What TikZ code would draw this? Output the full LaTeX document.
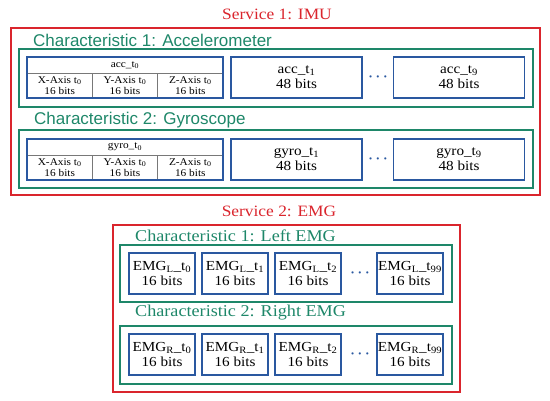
\documentclass[tikz,border=0pt]{standalone}
\usepackage{fontspec}
\setmainfont[FakeStretch=1.1]{Liberation Serif}
\setsansfont{Liberation Sans}
\definecolor{sred}{RGB}{218,37,45}
\definecolor{cgreen}{RGB}{30,135,105}
\definecolor{dblue}{RGB}{42,88,160}
\definecolor{divgray}{RGB}{120,120,120}
\begin{document}
\begin{tikzpicture}[x=1pt,y=-1pt,
  servicebox/.style={draw=sred,line width=1.8pt,inner sep=0pt},
  charbox/.style={draw=cgreen,line width=1.8pt,inner sep=0pt,minimum height=58pt},
  databox/.style={draw=dblue,line width=1.8pt,inner sep=0pt,minimum height=41pt,align=center,font=\fontsize{13.8}{15}\selectfont},
  emgbox/.style={databox,minimum width=66pt},
  bigbox/.style={databox,minimum width=131pt},
  divider/.style={draw=divgray,line width=0.8pt},
  smalltext/.style={inner sep=0pt,align=center,font=\fontsize{10.3}{11}\selectfont},
  servicetitle/.style={inner sep=0pt,text=sred,font=\fontsize{15.8}{18}\selectfont},
  chartitle/.style={inner sep=0pt,anchor=west,text=cgreen,font=\fontsize{16.5}{19}\selectfont},
  chartitlesans/.style={inner sep=0pt,anchor=west,text=cgreen,font=\sffamily\fontsize{17}{19}\selectfont},
  dotsnode/.style={inner sep=0pt,text=dblue,font=\fontsize{15}{15}\selectfont\boldmath}
]
\useasboundingbox (0,0) rectangle (550,400);

% ---------------- Service 1 ----------------
\node[servicetitle] (s1t) at (277,14) {Service 1: IMU};
\node[servicebox,minimum width=529pt,minimum height=167pt] (s1) at (275.5,111.5) {};

\node[chartitlesans] (c1t) at (33,40) {Characteristic 1: Accelerometer};
\node[charbox,minimum width=514pt] (c1) at (276,78) {};

% acc_t0 compound box
\draw[divider] (27,73) -- (223,73);
\draw[divider] (92.3,73) -- (92.3,98);
\draw[divider] (157.7,73) -- (157.7,98);
\node[databox,minimum width=196pt] (acc0) at (125,77.5) {};
\node[smalltext] (acc0h) at (125,65) {acc\_t\textsubscript{0}};
\node[smalltext] (acc0x) at (59.7,85.5) {X-Axis t\textsubscript{0}\\16 bits};
\node[smalltext] (acc0y) at (125,85.5) {Y-Axis t\textsubscript{0}\\16 bits};
\node[smalltext] (acc0z) at (190.3,85.5) {Z-Axis t\textsubscript{0}\\16 bits};

\node[bigbox] (acc1) at (296.5,77.5) {acc\_t\textsubscript{1}\\48 bits};
\node[dotsnode] (accd) at (378,77) {$\cdots$};
\node[bigbox] (acc9) at (459,77.5) {acc\_t\textsubscript{9}\\48 bits};

\node[chartitlesans] (c2t) at (34,120) {Characteristic 2: Gyroscope};
\node[charbox,minimum width=514pt] (c2) at (276,159) {};

\draw[divider] (27,155) -- (223,155);
\draw[divider] (92.3,155) -- (92.3,180);
\draw[divider] (157.7,155) -- (157.7,180);
\node[databox,minimum width=196pt] (gyr0) at (125,159.5) {};
\node[smalltext] (gyr0h) at (125,147) {gyro\_t\textsubscript{0}};
\node[smalltext] (gyr0x) at (59.7,167.5) {X-Axis t\textsubscript{0}\\16 bits};
\node[smalltext] (gyr0y) at (125,167.5) {Y-Axis t\textsubscript{0}\\16 bits};
\node[smalltext] (gyr0z) at (190.3,167.5) {Z-Axis t\textsubscript{0}\\16 bits};

\node[bigbox] (gyr1) at (296.5,159.5) {gyro\_t\textsubscript{1}\\48 bits};
\node[dotsnode] (gyrd) at (378,159) {$\cdots$};
\node[bigbox] (gyr9) at (459,159.5) {gyro\_t\textsubscript{9}\\48 bits};

% ---------------- Service 2 ----------------
\node[servicetitle] (s2t) at (279,211) {Service 2: EMG};
\node[servicebox,minimum width=347pt,minimum height=167pt] (s2) at (286.5,308.5) {};

\node[chartitle] (c3t) at (135,236) {Characteristic 1: Left EMG};
\node[charbox,minimum width=332pt,minimum height=57pt] (c3) at (286,273.5) {};
\node[emgbox] (l0) at (162,273.5) {EMG\textsubscript{L}\_t\textsubscript{0}\\16 bits};
\node[emgbox] (l1) at (235,273.5) {EMG\textsubscript{L}\_t\textsubscript{1}\\16 bits};
\node[emgbox] (l2) at (308,273.5) {EMG\textsubscript{L}\_t\textsubscript{2}\\16 bits};
\node[dotsnode] (ld) at (360,273) {$\cdots$};
\node[emgbox] (l99) at (410,273.5) {EMG\textsubscript{L}\_t\textsubscript{99}\\16 bits};

\node[chartitle] (c4t) at (135,313) {Characteristic 2: Right EMG};
\node[charbox,minimum width=332pt] (c4) at (286,355) {};
\node[emgbox] (r0) at (162,354.5) {EMG\textsubscript{R}\_t\textsubscript{0}\\16 bits};
\node[emgbox] (r1) at (235,354.5) {EMG\textsubscript{R}\_t\textsubscript{1}\\16 bits};
\node[emgbox] (r2) at (308,354.5) {EMG\textsubscript{R}\_t\textsubscript{2}\\16 bits};
\node[dotsnode] (rd) at (360,354) {$\cdots$};
\node[emgbox] (r99) at (410,354.5) {EMG\textsubscript{R}\_t\textsubscript{99}\\16 bits};
\end{tikzpicture}
\end{document}
